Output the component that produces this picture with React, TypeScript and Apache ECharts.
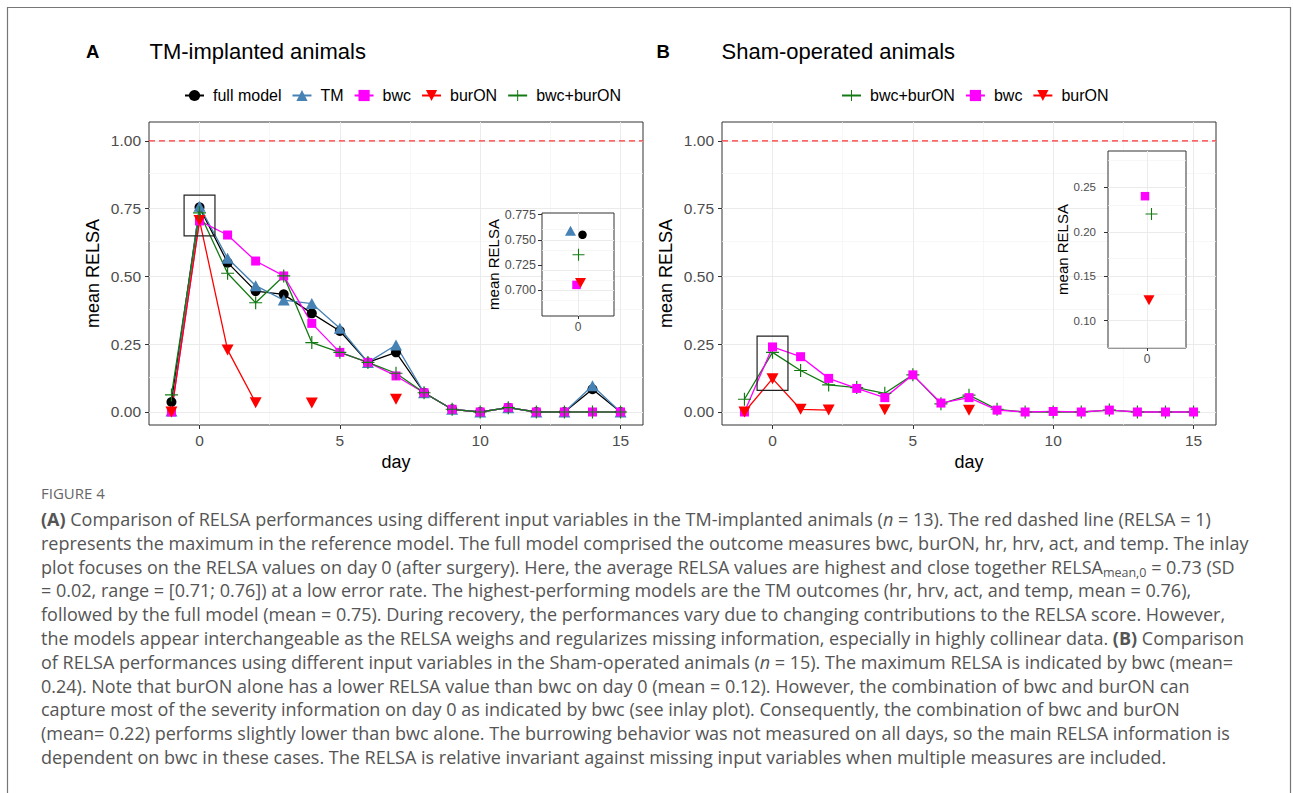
import React, { useEffect, useRef } from "react";
import * as echarts from "echarts";

// ---------------- DATA ----------------
const days = [-1, 0, 1, 2, 3, 4, 5, 6, 7, 8, 9, 10, 11, 12, 13, 14, 15];

// Panel A: TM-implanted animals (mean RELSA per day)
const aFullModel = [0.037, 0.755, 0.551, 0.446, 0.434, 0.364, 0.299, 0.183, 0.220, 0.071, 0.010, 0.000, 0.016, 0.000, 0.000, 0.084, 0.000];
const aTM = [0.004, 0.759, 0.567, 0.466, 0.413, 0.400, 0.309, 0.183, 0.247, 0.071, 0.010, 0.000, 0.016, 0.000, 0.000, 0.097, 0.000];
const aBwc = [0.000, 0.705, 0.653, 0.557, 0.502, 0.327, 0.220, 0.183, 0.133, 0.071, 0.010, 0.000, 0.016, 0.000, 0.000, 0.000, 0.000];
const aBurON = [0.000, 0.707, 0.229, 0.034, null, 0.033, null, null, 0.047, null, null, null, null, null, null, null, null];
const aBwcBurON = [0.063, 0.735, 0.512, 0.403, 0.502, 0.256, 0.220, 0.183, 0.143, 0.071, 0.010, 0.000, 0.016, 0.000, 0.000, 0.000, 0.000];

// Panel B: Sham-operated animals
const bBwcBurON = [0.047, 0.220, 0.153, 0.100, 0.090, 0.069, 0.137, 0.030, 0.062, 0.010, 0.000, 0.000, 0.000, 0.007, 0.000, 0.000, 0.000];
const bBwc = [0.000, 0.240, 0.204, 0.124, 0.087, 0.053, 0.137, 0.033, 0.053, 0.007, 0.000, 0.002, 0.000, 0.007, 0.000, 0.000, 0.000];
const bBurON = [0.000, 0.123, 0.010, 0.007, null, 0.008, null, null, 0.006, null, null, null, null, null, null, null, null];

// axis ranges, ticks / grid breaks
const xRange = [-1.8, 15.8];
const yRange = [-0.048, 1.07];
const xMajor = [0, 5, 10, 15];
const xMinor = [2.5, 7.5, 12.5];
const yMajor = [0, 0.25, 0.5, 0.75, 1.0];
const yMinor = [0.125, 0.375, 0.625, 0.875];
const insetX = [0];
const insetAYRange = [0.674, 0.7767];
const insetAYMajor = [0.7, 0.725, 0.75, 0.775];
const insetAYMinor = [0.6875, 0.7125, 0.7375, 0.7625];
const insetBYRange = [0.0693, 0.2908];
const insetBYMajor = [0.1, 0.15, 0.2, 0.25];
const insetBYMinor = [0.075, 0.125, 0.175, 0.225, 0.275];
const referenceLine = 1.0;
// zoom boxes around day 0: [xmin, ymin, xmax, ymax]
const zoomBoxA = [-0.55, 0.65, 0.55, 0.8];
const zoomBoxB = [-0.55, 0.08, 0.55, 0.28];
const day0Index = days.indexOf(0);

const captionLines = [
  "{b|(A)} Comparison of RELSA performances using different input variables in the TM-implanted animals ({i|n} = 13). The red dashed line (RELSA = 1)",
  "represents the maximum in the reference model. The full model comprised the outcome measures bwc, burON, hr, hrv, act, and temp. The inlay",
  "plot focuses on the RELSA values on day 0 (after surgery). Here, the average RELSA values are highest and close together RELSA{sub|mean,0} = 0.73 (SD",
  "= 0.02, range = [0.71; 0.76]) at a low error rate. The highest-performing models are the TM outcomes (hr, hrv, act, and temp, mean = 0.76),",
  "followed by the full model (mean = 0.75). During recovery, the performances vary due to changing contributions to the RELSA score. However,",
  "the models appear interchangeable as the RELSA weighs and regularizes missing information, especially in highly collinear data. {b|(B)} Comparison",
  "of RELSA performances using different input variables in the Sham-operated animals ({i|n} = 15). The maximum RELSA is indicated by bwc (mean=",
  "0.24). Note that burON alone has a lower RELSA value than bwc on day 0 (mean = 0.12). However, the combination of bwc and burON can",
  "capture most of the severity information on day 0 as indicated by bwc (see inlay plot). Consequently, the combination of bwc and burON",
  "(mean= 0.22) performs slightly lower than bwc alone. The burrowing behavior was not measured on all days, so the main RELSA information is",
  "dependent on bwc in these cases. The RELSA is relative invariant against missing input variables when multiple measures are included.",
];

// ---------------- STYLE ----------------
const FONT = '"Liberation Sans", Arial, sans-serif';
const CAP_FONT = '"Open Sans", sans-serif';
const CAP_SIZE = 18;
const CAP_COLOR = "#555555";
const C_FULL = "#000000";
const C_TM = "#4682b4";
const C_BWC = "#ff00ff";
const C_BUR = "#ff0000";
const C_BOTH = "#137a13";
const SYM_TRI_UP = "path://M5,0L10,8.66L0,8.66Z";
const SYM_TRI_DOWN = "path://M0,0L10,0L5,8.66Z";
const SYM_PLUS = "path://M4.55,0H5.45V10H4.55Z M0,4.55H10V5.45H0Z";

const styles: Record<string, any> = {
  "full model": { color: C_FULL, symbol: "circle", size: 10, inset: 8.5 },
  TM: { color: C_TM, symbol: SYM_TRI_UP, size: [12, 11], inset: [11, 10] },
  bwc: { color: C_BWC, symbol: "rect", size: 9, inset: 8.5 },
  burON: { color: C_BUR, symbol: SYM_TRI_DOWN, size: [12, 11], inset: [11, 10] },
  "bwc+burON": { color: C_BOTH, symbol: SYM_PLUS, size: 13, inset: 12 },
};

const toPairs = (vals: (number | null)[]) => days.map((d, i) => [d, vals[i] === null ? "-" : vals[i]]);

function lineSeries(name: string, vals: (number | null)[], gi: number) {
  const s = styles[name];
  return {
    name,
    type: "line",
    xAxisIndex: gi,
    yAxisIndex: gi,
    data: toPairs(vals),
    symbol: s.symbol,
    symbolSize: s.size,
    showSymbol: true,
    connectNulls: false,
    itemStyle: { color: s.color, borderWidth: 0 },
    lineStyle: { color: s.color, width: 1.3 },
    z: 2,
    silent: true,
  };
}

function insetSeries(name: string, vals: (number | null)[], gi: number, dx: number) {
  const s = styles[name];
  return {
    name,
    type: "scatter",
    xAxisIndex: gi,
    yAxisIndex: gi,
    data: [[0, vals[day0Index]]],
    symbol: s.symbol,
    symbolSize: s.inset,
    symbolOffset: [dx, 0],
    itemStyle: { color: s.color, opacity: 1 },
    z: 6,
    silent: true,
  };
}

function gridLines(gi: number, xMaj: number[], xMin: number[], yMaj: number[], yMin: number[], z: number, box?: number[]) {
  const major = { color: "#ebebeb", width: 1, type: "solid" };
  const minor = { color: "#f3f3f3", width: 0.7, type: "solid" };
  const s: any = {
    type: "line",
    xAxisIndex: gi,
    yAxisIndex: gi,
    data: [],
    silent: true,
    z,
    markLine: {
      z,
      silent: true,
      symbol: ["none", "none"],
      label: { show: false },
      data: [
        ...xMin.map((v) => ({ xAxis: v, lineStyle: minor })),
        ...yMin.map((v) => ({ yAxis: v, lineStyle: minor })),
        ...xMaj.map((v) => ({ xAxis: v, lineStyle: major })),
        ...yMaj.map((v) => ({ yAxis: v, lineStyle: major })),
      ],
    },
  };
  if (box) {
    s.markArea = {
      z: 3,
      silent: true,
      itemStyle: { color: "rgba(0,0,0,0)", borderColor: "#222", borderWidth: 1.2 },
      data: [[{ xAxis: box[0], yAxis: box[1] }, { xAxis: box[2], yAxis: box[3] }]],
    };
  }
  return s;
}

// red dashed reference line (RELSA = 1) spanning the whole x range
function refLine(gi: number) {
  return {
    type: "line",
    xAxisIndex: gi,
    yAxisIndex: gi,
    data: [[xRange[0], referenceLine], [xRange[1], referenceLine]],
    symbol: "none",
    showSymbol: false,
    silent: true,
    z: 1.5,
    itemStyle: { color: "#ff3333" },
    lineStyle: { color: "#ff3333", width: 1.2, type: [6, 4] },
  };
}

function mainX(gi: number) {
  return {
    type: "value",
    gridIndex: gi,
    min: xRange[0],
    max: xRange[1],
    axisLine: { show: false, onZero: false },
    axisTick: { show: true, length: 4, customValues: xMajor, lineStyle: { color: "#333", width: 1 } },
    axisLabel: { customValues: xMajor, fontSize: 15.5, color: "#4d4d4d", fontFamily: FONT, margin: 7 },
    splitLine: { show: false },
    name: "day",
    nameLocation: "middle",
    nameGap: 28,
    nameTextStyle: { fontSize: 18, color: "#000", fontFamily: FONT },
  };
}
function mainY(gi: number) {
  return {
    type: "value",
    gridIndex: gi,
    min: yRange[0],
    max: yRange[1],
    axisLine: { show: false, onZero: false },
    axisTick: { show: true, length: 4, customValues: yMajor, lineStyle: { color: "#333", width: 1 } },
    axisLabel: { customValues: yMajor, fontSize: 15.5, color: "#4d4d4d", fontFamily: FONT, margin: 8, formatter: (v: number) => v.toFixed(2) },
    splitLine: { show: false },
    name: "mean RELSA",
    nameLocation: "middle",
    nameGap: 47,
    nameTextStyle: { fontSize: 18, color: "#000", fontFamily: FONT },
  };
}
function insetXAxis(gi: number) {
  return {
    type: "value",
    gridIndex: gi,
    min: -1,
    max: 1,
    z: 5,
    axisLine: { show: false, onZero: false },
    axisTick: { show: true, length: 3, customValues: insetX, lineStyle: { color: "#333" } },
    axisLabel: { customValues: insetX, fontSize: 12, color: "#4d4d4d", fontFamily: FONT, margin: 5, formatter: (v: number) => String(v) },
    splitLine: { show: false },
  };
}
function insetYAxis(gi: number, range: number[], ticks: number[], dec: number, fs: number, margin: number, nameGap: number) {
  return {
    type: "value",
    gridIndex: gi,
    min: range[0],
    max: range[1],
    z: 5,
    axisLine: { show: false, onZero: false },
    axisTick: { show: true, length: 4, customValues: ticks, lineStyle: { color: "#333" } },
    axisLabel: { customValues: ticks, fontSize: fs, color: "#4d4d4d", fontFamily: FONT, margin, formatter: (v: number) => v.toFixed(dec) },
    splitLine: { show: false },
    name: "mean RELSA",
    nameLocation: "middle",
    nameGap,
    nameTextStyle: { fontSize: 15, color: "#000", fontFamily: FONT },
  };
}

function buildOption() {
  const gridBase = { show: true, borderColor: "#333", borderWidth: 1, backgroundColor: "#fff", containLabel: false, outerBoundsMode: "none" };
  const legendBase = {
    orient: "horizontal",
    top: 82.5,
    itemWidth: 19,
    itemHeight: 14,
    itemGap: 10,
    selectedMode: false,
    textStyle: { fontSize: 16, color: "#000", fontFamily: FONT, padding: [0, 0, 0, 4] },
  };
  const capRich = {
    b: { fontSize: CAP_SIZE, fontFamily: CAP_FONT, fontWeight: "bold", fill: CAP_COLOR, lineHeight: 24 },
    i: { fontSize: CAP_SIZE, fontFamily: CAP_FONT, fontStyle: "italic", fill: CAP_COLOR, lineHeight: 24 },
    sub: { fontSize: 12.5, fontFamily: CAP_FONT, fill: CAP_COLOR, lineHeight: 14, verticalAlign: "bottom" },
  };
  return {
    animation: false,
    backgroundColor: "#fff",
    grid: [
      { ...gridBase, left: 149, top: 122, width: 494, height: 303, z: 0 },
      { ...gridBase, left: 542, top: 213, width: 72, height: 103, z: 4 },
      { ...gridBase, left: 722, top: 122, width: 494, height: 303, z: 0 },
      { ...gridBase, left: 1108, top: 151, width: 78, height: 197, z: 4 },
    ],
    xAxis: [mainX(0), insetXAxis(1), mainX(2), insetXAxis(3)],
    yAxis: [
      mainY(0),
      insetYAxis(1, insetAYRange, insetAYMajor, 3, 12.5, 6, 40),
      mainY(2),
      insetYAxis(3, insetBYRange, insetBYMajor, 2, 11.5, 12, 31),
    ],
    legend: [
      { ...legendBase, left: 179, data: ["full model", "TM", "bwc", "burON", "bwc+burON"] },
      { ...legendBase, left: 836, data: ["bwc+burON", "bwc", "burON"] },
    ],
    series: [
      gridLines(0, xMajor, xMinor, yMajor, yMinor, 1, zoomBoxA),
      refLine(0),
      lineSeries("full model", aFullModel, 0),
      lineSeries("TM", aTM, 0),
      lineSeries("bwc", aBwc, 0),
      lineSeries("burON", aBurON, 0),
      lineSeries("bwc+burON", aBwcBurON, 0),
      gridLines(1, insetX, [], insetAYMajor, insetAYMinor, 4.5),
      insetSeries("TM", aTM, 1, -7.5),
      insetSeries("full model", aFullModel, 1, 4.5),
      insetSeries("bwc+burON", aBwcBurON, 1, 0.5),
      insetSeries("bwc", aBwc, 1, -1.5),
      insetSeries("burON", aBurON, 1, 2.5),
      gridLines(2, xMajor, xMinor, yMajor, yMinor, 1, zoomBoxB),
      refLine(2),
      lineSeries("bwc+burON", bBwcBurON, 2),
      lineSeries("bwc", bBwc, 2),
      lineSeries("burON", bBurON, 2),
      gridLines(3, insetX, [], insetBYMajor, insetBYMinor, 4.5),
      insetSeries("bwc", bBwc, 3, -2),
      insetSeries("bwc+burON", bBwcBurON, 3, 4.5),
      insetSeries("burON", bBurON, 3, 2),
    ],
    graphic: [
      { type: "rect", silent: true, shape: { x: 7.5, y: 7.5, width: 1283, height: 800 }, style: { fill: "none", stroke: "#777", lineWidth: 1.2 } },
      { type: "text", x: 86, y: 51, style: { text: "A", fontSize: 18.5, fontWeight: "bold", fontFamily: FONT, fill: "#000", verticalAlign: "middle" } },
      { type: "text", x: 149.5, y: 51, style: { text: "TM-implanted animals", fontSize: 22, fontFamily: FONT, fill: "#000", verticalAlign: "middle" } },
      { type: "text", x: 656.5, y: 51, style: { text: "B", fontSize: 18.5, fontWeight: "bold", fontFamily: FONT, fill: "#000", verticalAlign: "middle" } },
      { type: "text", x: 721.5, y: 51, style: { text: "Sham-operated animals", fontSize: 22, fontFamily: FONT, fill: "#000", verticalAlign: "middle" } },
      { type: "text", x: 41, y: 493, style: { text: "FIGURE 4", fontSize: 15, fontFamily: CAP_FONT, fill: "#666", verticalAlign: "middle" } },
      ...captionLines.map((t, i) => ({
        type: "text",
        x: 41,
        y: 519 + i * 23.8,
        style: { text: t, fontSize: CAP_SIZE, fontFamily: CAP_FONT, fill: CAP_COLOR, lineHeight: 24, verticalAlign: "middle", rich: capRich },
      })),
    ],
  };
}

export default function App() {
  const ref = useRef<HTMLDivElement>(null);
  useEffect(() => {
    const chart = echarts.init(ref.current as HTMLDivElement, null, { renderer: "svg" });
    chart.setOption(buildOption() as any);
    return () => chart.dispose();
  }, []);
  return (
    <div
      ref={ref}
      style={{ position: "absolute", left: 0, top: 0, width: 1293, height: 793, background: "#fff" }}
    />
  );
}
